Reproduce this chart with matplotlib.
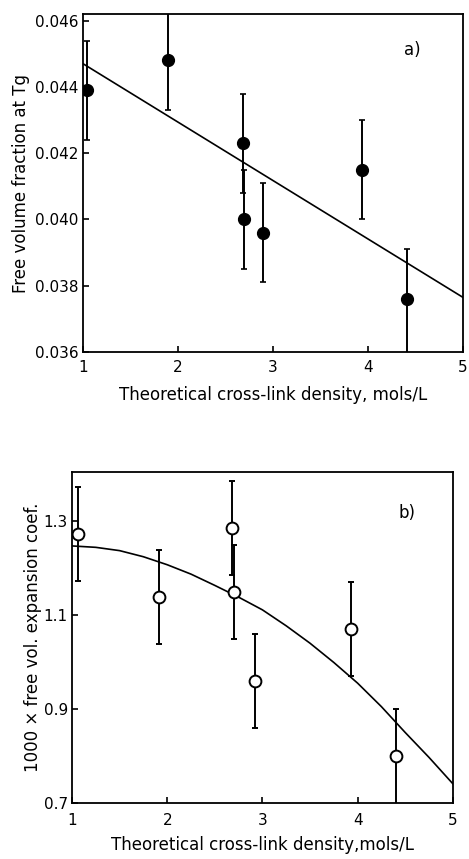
import matplotlib
matplotlib.use("Agg")
import matplotlib.pyplot as plt

plt.rcParams['font.family'] = ['DejaVu Sans']

# -------------------------------------------------
# Panel a: free volume fraction at Tg
# -------------------------------------------------
a_x = [1.04, 1.89, 2.68, 2.70, 2.90, 3.94, 4.41]
a_y = [0.0439, 0.0448, 0.0423, 0.0400, 0.0396, 0.0415, 0.0376]
a_err_lo = [0.0015, 0.0015, 0.0015, 0.0015, 0.0015, 0.0015, 0.0018]
a_err_hi = [0.0015, 0.0015, 0.0015, 0.0015, 0.0015, 0.0015, 0.0015]
a_fit_x = [1.0, 5.0]
a_fit_y = [0.0447, 0.03765]
a_yticks = [0.036, 0.038, 0.040, 0.042, 0.044, 0.046]
a_yticklabels = ["0.036", "0.038", "0.040", "0.042", "0.044", "0.046"]

# -------------------------------------------------
# Panel b: free volume expansion coefficient
# -------------------------------------------------
b_x = [1.06, 1.91, 2.68, 2.70, 2.92, 3.93, 4.40]
b_y = [1.273, 1.138, 1.285, 1.150, 0.959, 1.070, 0.801]
b_err_lo = [0.10, 0.10, 0.10, 0.10, 0.10, 0.10, 0.12]
b_err_hi = [0.10, 0.10, 0.10, 0.10, 0.10, 0.10, 0.10]
b_fit_x = [1.0, 1.25, 1.5, 1.75, 2.0, 2.25, 2.5, 2.75, 3.0,
           3.25, 3.5, 3.75, 4.0, 4.25, 4.5, 4.75, 5.0]
b_fit_y = [1.247, 1.244, 1.237, 1.224, 1.207, 1.187, 1.163, 1.138, 1.111,
           1.077, 1.040, 0.999, 0.955, 0.905, 0.850, 0.797, 0.741]
b_yticks = [0.7, 0.9, 1.1, 1.3]
b_yticklabels = ["0.7", "0.9", "1.1", "1.3"]

xticks = [1, 2, 3, 4, 5]
xlabel_a = "Theoretical cross-link density, mols/L"
xlabel_b = "Theoretical cross-link density,mols/L"

fig = plt.figure(figsize=(4.69, 8.59), dpi=100)
ax1 = fig.add_axes([0.177, 0.5902, 0.810, 0.3935])
ax2 = fig.add_axes([0.1535, 0.0652, 0.812, 0.3857])


def style(ax, xpad):
    for s in ax.spines.values():
        s.set_linewidth(1.3)
    ax.tick_params(direction="in", length=4, width=1.2, labelsize=11, pad=3)
    ax.tick_params(axis="x", pad=xpad)
    ax.set_xticks(xticks)
    ax.set_xticklabels([str(t) for t in xticks])
    ax.set_xlim(1, 5)


# panel a
ax1.plot(a_fit_x, a_fit_y, color="black", lw=1.2, zorder=2)
ax1.errorbar(a_x, a_y, yerr=[a_err_lo, a_err_hi], fmt="o", color="black",
             ms=8.5, elinewidth=1.4, capsize=2.5, capthick=1.2, zorder=3)
style(ax1, 6)
ax1.set_ylim(0.036, 0.0462)
ax1.set_yticks(a_yticks)
ax1.set_yticklabels(a_yticklabels)
ax1.set_ylabel("Free volume fraction at Tg", fontsize=12, labelpad=4)
ax1.set_xlabel(xlabel_a, fontsize=12, labelpad=8)
ax1.text(0.868, 0.893, "a)", transform=ax1.transAxes, fontsize=12,
         ha="center", va="center")

# panel b
ax2.plot(b_fit_x, b_fit_y, color="black", lw=1.2, zorder=2)
ax2.errorbar(b_x, b_y, yerr=[b_err_lo, b_err_hi], fmt="o", color="black",
             mfc="white", mec="black", mew=1.4, ms=8.5, elinewidth=1.4,
             capsize=2.5, capthick=1.2, zorder=3)
style(ax2, 7)
ax2.set_ylim(0.7, 1.405)
ax2.set_yticks(b_yticks)
ax2.set_yticklabels(b_yticklabels)
ax2.set_ylabel("1000 \u00d7 free vol. expansion coef.", fontsize=12, labelpad=1)
ax2.set_xlabel(xlabel_b, fontsize=12, labelpad=6)
ax2.text(0.879, 0.876, "b)", transform=ax2.transAxes, fontsize=12,
         ha="center", va="center")

fig.savefig("out.png", dpi=100)
